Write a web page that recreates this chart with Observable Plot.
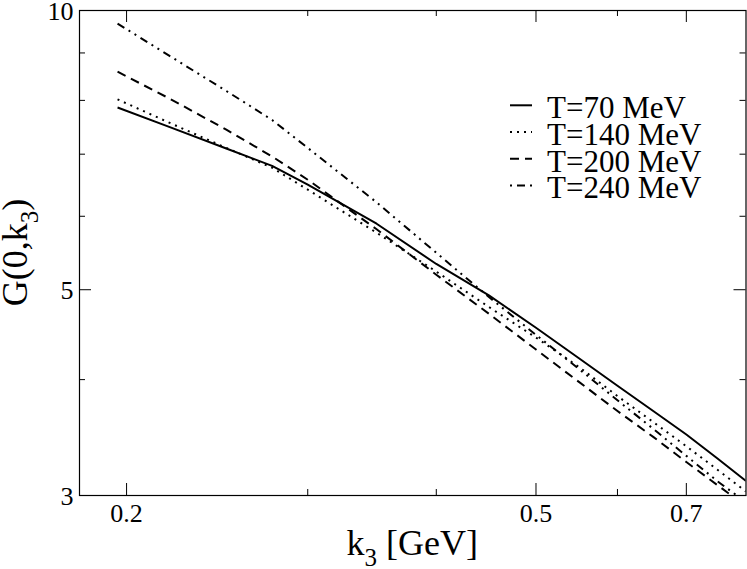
<!DOCTYPE html>
<html><head><meta charset="utf-8">
<script src="https://cdn.jsdelivr.net/npm/d3@7"></script>
<script src="https://cdn.jsdelivr.net/npm/@observablehq/plot@0.6"></script>
<style>
html,body{margin:0;padding:0;background:#fff;}
text{white-space:pre;}
</style></head><body><div id="chart"></div>
<script>
// k3 [GeV] sample points
const k3   = [0.196, 0.22, 0.25, 0.277, 0.3, 0.35, 0.4, 0.45, 0.5, 0.55, 0.6, 0.65, 0.7, 0.75, 0.8];
// G(0,k3) for each temperature
const g70  = [7.86, 7.49, 7.10, 6.80, 6.49, 5.89, 5.33, 4.93, 4.55, 4.22, 3.94, 3.70, 3.49, 3.29, 3.11];
const g140 = [8.02, 7.57, 7.11, 6.77, 6.41, 5.76, 5.23, 4.79, 4.44, 4.13, 3.84, 3.60, 3.39, 3.20, 3.03];
const g200 = [8.59, 8.04, 7.44, 6.96, 6.57, 5.81, 5.19, 4.71, 4.31, 3.98, 3.70, 3.47, 3.26, 3.08, 2.92];
const g240 = [9.68, 8.94, 8.19, 7.62, 7.11, 6.21, 5.48, 4.91, 4.47, 4.11, 3.80, 3.54, 3.31, 3.11, 2.95];
const seriesNames = ["T=70 MeV", "T=140 MeV", "T=200 MeV", "T=240 MeV"];
const seriesValues = [g70, g140, g200, g240];
const seriesDash = [null, "2,5", "9,6", "8,5,2,5,2,5"];
const legendDashOffset = [0, 0, 0, 20];

const xMajor = [0.2, 0.5, 0.7];
const xMinor = [0.3, 0.4, 0.6];
const yMajor = [3, 5, 10];
const yMinor = [4, 6, 7, 8, 9];

const W = 747, H = 569;
const mL = 79, mR = 1.5, mT = 10, mB = 74;
const iw = W - mL - mR, ih = H - mT - mB;
const bigT = 12, smallT = 6;
const ff = "'Liberation Serif', 'Times New Roman', serif";

const lineMarks = seriesValues.map((vals, i) =>
  Plot.line(k3.map((k, j) => ({k, g: vals[j]})), {
    x: "k", y: "g", stroke: "black", strokeWidth: 2,
    strokeDasharray: seriesDash[i] || undefined,
    strokeLinecap: "butt", clip: true
  })
);

const chart = Plot.plot({
  width: W, height: H,
  marginLeft: mL, marginRight: mR, marginTop: mT, marginBottom: mB,
  style: {fontFamily: ff, background: "white", color: "black"},
  x: {type: "log", domain: [0.18, 0.8], axis: null},
  y: {type: "log", domain: [3, 10], axis: null},
  marks: [
    ...lineMarks,
    // x ticks bottom / top
    Plot.tickX(xMajor, {x: d => d, insetTop: ih - bigT, stroke: "black", strokeWidth: 1}),
    Plot.tickX(xMinor, {x: d => d, insetTop: ih - smallT, stroke: "black", strokeWidth: 1}),
    Plot.tickX(xMajor, {x: d => d, insetBottom: ih - bigT, stroke: "black", strokeWidth: 1}),
    Plot.tickX(xMinor, {x: d => d, insetBottom: ih - smallT, stroke: "black", strokeWidth: 1}),
    // y ticks left / right
    Plot.tickY(yMajor, {y: d => d, insetRight: iw - bigT, stroke: "black", strokeWidth: 1}),
    Plot.tickY(yMinor, {y: d => d, insetRight: iw - smallT, stroke: "black", strokeWidth: 1}),
    Plot.tickY(yMajor, {y: d => d, insetLeft: iw - bigT, stroke: "black", strokeWidth: 1}),
    Plot.tickY(yMinor, {y: d => d, insetLeft: iw - smallT, stroke: "black", strokeWidth: 1}),
    Plot.frame({stroke: "black", strokeWidth: 1.2}),
    // tick labels
    Plot.text(xMajor, {x: d => d, text: d => String(d), frameAnchor: "bottom", lineAnchor: "top", dy: 8, fontSize: 26, fill: "black"}),
    Plot.text(yMajor, {y: d => d, text: d => String(d), frameAnchor: "left", textAnchor: "end", lineAnchor: "middle", dx: -6, dy: 1, fontSize: 26, fill: "black"})
  ]
});

document.getElementById("chart").appendChild(chart);

const svg = d3.select(chart);

// x axis label
const xl = svg.append("text").attr("x", mL + iw / 2).attr("y", 555)
  .attr("text-anchor", "middle").attr("font-size", 36).attr("font-family", ff).attr("fill", "black");
xl.append("tspan").text("k");
xl.append("tspan").attr("font-size", 25).attr("dy", 11).text("3");
xl.append("tspan").attr("dy", -11).text(" [GeV]");

// y axis label
const yl = svg.append("text").attr("transform", `translate(27,${mT + ih / 2}) rotate(-90)`)
  .attr("text-anchor", "middle").attr("font-size", 36).attr("font-family", ff).attr("fill", "black");
yl.append("tspan").text("G(0,k");
yl.append("tspan").attr("font-size", 25).attr("dy", 11).text("3");
yl.append("tspan").attr("dy", -11).text(")");

// legend
const lg = svg.append("g");
seriesNames.forEach((name, i) => {
  const base = 118.3 + 26.7 * i;
  lg.append("line").attr("x1", 510).attr("x2", 532).attr("y1", base - 13).attr("y2", base - 13)
    .attr("stroke", "black").attr("stroke-width", 2)
    .attr("stroke-dasharray", seriesDash[i])
    .attr("stroke-dashoffset", legendDashOffset[i]);
  lg.append("text").attr("x", 547).attr("y", base).attr("font-size", 31)
    .attr("text-anchor", "start")
    .attr("font-family", ff).attr("fill", "black").text(name);
});
</script>
</body></html>
